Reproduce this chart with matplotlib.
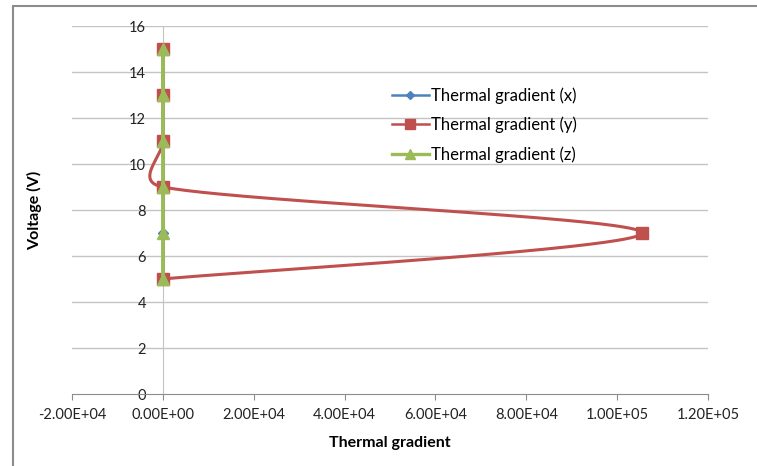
import numpy as np
import matplotlib
matplotlib.use("Agg")
import matplotlib.pyplot as plt
from matplotlib.patches import Rectangle

# data
voltage = [5, 7, 9, 11, 13, 15]
grad_x = [0, 0, 0, 0, 0, 0]
grad_y = [0, 105500, 0, 0, 0, 0]
grad_z = [0, 0, 0, 0, 0, 0]
labels = ["Thermal gradient (x)", "Thermal gradient (y)", "Thermal gradient (z)"]
colors = ["#4F81BD", "#C0504D", "#9BBB59"]
xticks = [-20000, 0, 20000, 40000, 60000, 80000, 100000, 120000]
yticks = list(range(0, 17, 2))

plt.rcParams["font.family"] = ["Lato", "DejaVu Sans"]


def smooth(ax, xs, ys, cap=0.65, n=80):
    # catmull-rom style bezier (like excel's smoothed line), in display space,
    # control arms capped relative to the segment length
    pts = ax.transData.transform(np.column_stack([xs, ys]))
    out = [pts[0]]
    m = len(pts)

    def arm(v, seg):
        L = np.linalg.norm(v)
        if L > cap * seg and L > 0:
            v = v * cap * seg / L
        return v

    for i in range(m - 1):
        p0 = pts[i - 1] if i > 0 else pts[i]
        p1, p2 = pts[i], pts[i + 1]
        p3 = pts[i + 2] if i + 2 < m else pts[i + 1]
        seg = np.linalg.norm(p2 - p1)
        c1 = p1 + arm((p2 - p0) / 6, seg)
        c2 = p2 - arm((p3 - p1) / 6, seg)
        s = np.linspace(0, 1, n)[1:, None]
        out.extend((1 - s) ** 3 * p1 + 3 * (1 - s) ** 2 * s * c1
                   + 3 * (1 - s) * s ** 2 * c2 + s ** 3 * p2)
    out = ax.transData.inverted().transform(np.array(out))
    return out[:, 0], out[:, 1]


fig = plt.figure(figsize=(7.57, 4.66), dpi=100)
ax = fig.add_axes([72 / 757, 72 / 466, 636 / 757, 368 / 466])
ax.set_xlim(-20000, 120000)
ax.set_ylim(0, 16)

# outer chart frame
fig.patches.append(Rectangle((13 / 757, -0.1), 1.2, 1.1 - 6 / 466, transform=fig.transFigure,
                             fill=False, edgecolor="#8c8c8c", linewidth=1.5))

for yy in yticks[1:]:
    ax.axhline(yy, color="#c4c4c4", linewidth=1, zorder=0)

series = [grad_x, grad_y, grad_z]
markers = ["D", "s", "^"]
msizes = [5.5, 8, 8.5]
lws = [2.2, 2.2, 2.8]
handles = []
for xs, lab, c, mk, ms, lw in zip(series, labels, colors, markers, msizes, lws):
    sx, sy = smooth(ax, xs, voltage)
    ax.plot(sx, sy, color=c, linewidth=lw, zorder=3)
    ax.plot(xs, voltage, linestyle="none", marker=mk, markersize=ms, color=c, zorder=3)
    handles.append(plt.Line2D([], [], color=c, linewidth=lw - 0.4, marker=mk,
                              markersize=ms - 1.5, label=lab))

ax.spines["top"].set_visible(False)
ax.spines["right"].set_visible(False)
ax.spines["left"].set_position(("data", 0))
ax.spines["left"].set_color("#c4c4c4")
ax.spines["bottom"].set_color("#8c8c8c")
ax.set_xticks(xticks)
ax.set_xticklabels(["-2.00E+04", "0.00E+00", "2.00E+04", "4.00E+04", "6.00E+04",
                    "8.00E+04", "1.00E+05", "1.20E+05"])
ax.set_yticks(yticks)
ax.tick_params(axis="x", length=4, color="#8c8c8c", labelsize=10.5, pad=6, labelcolor="#222222")
ax.tick_params(axis="y", length=0, labelsize=10.5, pad=12, labelcolor="#222222")

ax.set_xlabel("Thermal gradient", fontsize=11.5, fontweight="bold", labelpad=10)
ax.set_ylabel("Voltage (V)", fontsize=11.5, fontweight="bold")
ax.yaxis.set_label_coords((42 - 72) / 636, 0.5)

ax.legend(handles=handles, loc="upper left", bbox_to_anchor=(392 / 757, 1 - 87 / 466),
          bbox_transform=fig.transFigure, frameon=False, fontsize=12,
          handlelength=2.2, handletextpad=0.15, labelspacing=0.78, borderpad=0,
          borderaxespad=0)

fig.savefig("out.png", dpi=100)
